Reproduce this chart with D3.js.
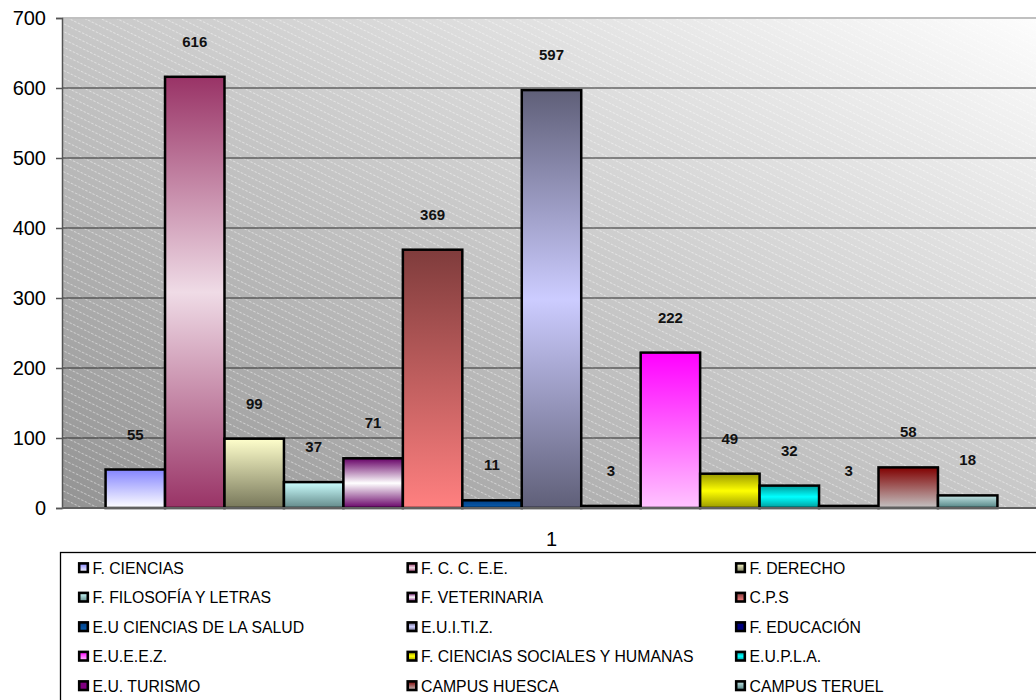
<!DOCTYPE html>
<html>
<head>
<meta charset="utf-8">
<script src="https://cdn.jsdelivr.net/npm/d3@7"></script>
<style>
  html, body { margin: 0; padding: 0; background: #fff; }
  svg { display: block; }
  text { font-family: Arial, "Liberation Sans", sans-serif; }
</style>
</head>
<body>
<svg id="chart" width="1036" height="700"></svg>
<script>
// ---------- DATA ----------
const categories = ["1"];
const seriesNames = [
  "F. CIENCIAS", "F. C. C. E.E.", "F. DERECHO",
  "F. FILOSOFÍA Y LETRAS", "F. VETERINARIA", "C.P.S",
  "E.U CIENCIAS DE LA SALUD", "E.U.I.TI.Z.", "F. EDUCACIÓN",
  "E.U.E.E.Z.", "F. CIENCIAS SOCIALES Y HUMANAS", "E.U.P.L.A.",
  "E.U. TURISMO", "CAMPUS HUESCA", "CAMPUS TERUEL"
];
const seriesValues = [55, 616, 99, 37, 71, 369, 11, 597, 3, 222, 49, 32, 3, 58, 18];
const yTicks = [0, 100, 200, 300, 400, 500, 600, 700];

// ---------- STYLES (gradient stops, top -> bottom) ----------
const seriesGradients = [
  ["#8484ff", "#ffffff"],
  ["#993366", "#efdbe6", "#993366"],
  ["#ffffcc", "#77775a"],
  ["#ccffff", "#628888"],
  ["#660066", "#ffffff", "#660066"],
  ["#7f3c3c", "#ff8080"],
  ["#003f86", "#0a5eb0"],
  ["#5f5f78", "#ccccff", "#5f5f78"],
  ["#000080", "#000080"],
  ["#ff00ff", "#ffc4ff"],
  ["#999900", "#ffff00", "#999900"],
  ["#009999", "#00ffff", "#009999"],
  ["#800080", "#800080"],
  ["#800000", "#c4c4c4"],
  ["#c4e6e6", "#4f8080"]
];

// ---------- LAYOUT ----------
const plot = { left: 62, top: 18, right: 1041, bottom: 508 };

const svg = d3.select("#chart");
const defs = svg.append("defs");

// background gradient
const bg = defs.append("linearGradient").attr("id", "bgGrad")
  .attr("x1", 0).attr("y1", 1).attr("x2", 1).attr("y2", 0);
bg.append("stop").attr("offset", 0).attr("stop-color", "#939393");
bg.append("stop").attr("offset", 0.5).attr("stop-color", "#c8c8c8");
bg.append("stop").attr("offset", 1).attr("stop-color", "#fdfdfd");

// hatch pattern
const pat = defs.append("pattern").attr("id", "hatch")
  .attr("patternUnits", "userSpaceOnUse").attr("width", 4).attr("height", 7)
  .attr("patternTransform", "rotate(26)");
pat.append("line").attr("x1", 0).attr("y1", 0.5).attr("x2", 2.5).attr("y2", 0.5)
  .attr("stroke", "#ffffff").attr("stroke-opacity", 0.45).attr("stroke-width", 1);

// series gradients
seriesGradients.forEach((stops, i) => {
  const g = defs.append("linearGradient").attr("id", "g" + i)
    .attr("x1", 0).attr("y1", 0).attr("x2", 0).attr("y2", 1);
  stops.forEach((c, j) => {
    g.append("stop").attr("offset", stops.length === 1 ? 0 : j / (stops.length - 1)).attr("stop-color", c);
  });
});

// scales
const x0 = d3.scaleBand().domain(categories).range([plot.left, plot.right]).paddingOuter(0).paddingInner(0);
const x1 = d3.scaleBand().domain(seriesNames).range([plot.left, plot.right])
  .paddingInner(0).paddingOuter(0.733);
const y = d3.scaleLinear().domain([0, 700]).range([plot.bottom, plot.top]);

// plot background
svg.append("rect").attr("x", plot.left).attr("y", plot.top)
  .attr("width", plot.right - plot.left).attr("height", plot.bottom - plot.top)
  .attr("fill", "url(#bgGrad)");
svg.append("rect").attr("x", plot.left).attr("y", plot.top)
  .attr("width", plot.right - plot.left).attr("height", plot.bottom - plot.top)
  .attr("fill", "url(#hatch)");

// gridlines
svg.append("g").selectAll("line").data(yTicks.filter(t => t > 0 && t < 700)).join("line")
  .attr("x1", plot.left).attr("x2", plot.right)
  .attr("y1", d => y(d)).attr("y2", d => y(d))
  .attr("stroke", "#2a2a2a").attr("stroke-width", 1);
// top border
svg.append("line").attr("x1", plot.left).attr("x2", plot.right)
  .attr("y1", y(700)).attr("y2", y(700)).attr("stroke", "#c0c0c0").attr("stroke-width", 2);

// y axis
const yAxis = d3.axisLeft(y).tickValues(yTicks).tickSize(6).tickPadding(10).tickFormat(d3.format("d"));
const ya = svg.append("g").attr("transform", `translate(${plot.left},0)`).call(yAxis);
ya.select(".domain").attr("stroke", "#555").attr("stroke-width", 1.5);
ya.selectAll(".tick line").attr("stroke", "#555").attr("stroke-width", 1.5);
ya.selectAll(".tick text").attr("font-size", 20).attr("fill", "#000")
  .attr("font-family", "Arial, 'Liberation Sans', sans-serif");

// bars
svg.append("g").selectAll("rect").data(seriesValues).join("rect")
  .attr("x", (d, i) => x1(seriesNames[i]))
  .attr("width", x1.bandwidth())
  .attr("y", d => y(d))
  .attr("height", d => y(0) - y(d))
  .attr("fill", (d, i) => `url(#g${i})`)
  .attr("stroke", "#000").attr("stroke-width", 2.5);

// x axis line
svg.append("line").attr("x1", plot.left).attr("x2", plot.right)
  .attr("y1", y(0)).attr("y2", y(0)).attr("stroke", "#606060").attr("stroke-width", 2);

// x axis category label
const xa = svg.append("g").attr("transform", `translate(0,${y(0)})`)
  .call(d3.axisBottom(x0).tickSize(0).tickPadding(24));
xa.select(".domain").remove();
xa.selectAll(".tick text").attr("font-size", 20).attr("fill", "#000")
  .attr("font-family", "Arial, 'Liberation Sans', sans-serif");

// data labels
svg.append("g").selectAll("text").data(seriesValues).join("text")
  .attr("x", (d, i) => x1(seriesNames[i]) + x1.bandwidth() / 2)
  .attr("y", d => y(d) - 30)
  .attr("text-anchor", "middle")
  .attr("font-size", 15).attr("font-weight", "bold").attr("fill", "#111")
  .text(d => d);

// legend box
svg.append("rect").attr("x", 60.5).attr("y", 552.5).attr("width", 1000).attr("height", 200)
  .attr("fill", "#fff").attr("stroke", "#000").attr("stroke-width", 1.3);

const legendCols = 3;
const items = svg.append("g").selectAll("g").data(seriesNames).join("g")
  .attr("transform", (d, i) => `translate(${78 + (i % legendCols) * 328.5},${568 + Math.floor(i / legendCols) * 29.5})`);
items.append("rect").attr("x", 1.2).attr("y", -4.6).attr("width", 8.6).attr("height", 8.6)
  .attr("fill", (d, i) => `url(#g${i})`).attr("stroke", "#000").attr("stroke-width", 2.6);
items.append("text").attr("x", 14.5).attr("y", 0).attr("dy", "0.36em")
  .attr("font-size", 15.8).attr("fill", "#000").text(d => d);
</script>
</body>
</html>
